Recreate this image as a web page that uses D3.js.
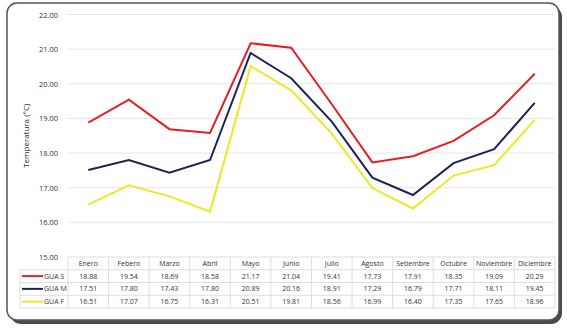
<!DOCTYPE html>
<html>
<head>
<meta charset="utf-8">
<script src="https://cdn.jsdelivr.net/npm/d3@7"></script>
<style>
body { margin: 0; background: #fff; }
text { font-family: "Open Sans", "Noto Sans", sans-serif; }
</style>
</head>
<body>
<div id="chart"></div>
<script>
var months = ["Enero", "Febero", "Marzo", "Abril", "Mayo", "Junio", "Julio", "Agosto", "Setiembre", "Octubre", "Noviembre", "Diciembre"];
var seriesNames = ["GUA S", "GUA M", "GUA F"];
var guaS = [18.88, 19.54, 18.69, 18.58, 21.17, 21.04, 19.41, 17.73, 17.91, 18.35, 19.09, 20.29];
var guaM = [17.51, 17.80, 17.43, 17.80, 20.89, 20.16, 18.91, 17.29, 16.79, 17.71, 18.11, 19.45];
var guaF = [16.51, 17.07, 16.75, 16.31, 20.51, 19.81, 18.56, 16.99, 16.40, 17.35, 17.65, 18.96];
var yTicks = [15, 16, 17, 18, 19, 20, 21, 22];
var colors = ["#e31f26", "#1c2457", "#ece825"];

var svgWidth = 567, svgHeight = 332;
var svg = d3.select("#chart").append("svg")
  .attr("width", svgWidth).attr("height", svgHeight);

// frame with shadow
svg.append("rect").attr("x", 10).attr("y", 6).attr("width", 552).attr("height", 318)
  .attr("rx", 11).attr("fill", "#2a2a2a").attr("opacity", 0.85);
svg.append("rect").attr("x", 7).attr("y", 3).attr("width", 552).attr("height", 317)
  .attr("rx", 10).attr("fill", "#fff").attr("stroke", "#555").attr("stroke-width", 1.5);

var series = [guaS, guaM, guaF];

var x = d3.scaleBand().domain(months).range([68, 555]);
var y = d3.scaleLinear().domain([15, 22]).range([257, 14.5]);

// gridlines
svg.append("g").selectAll("line").data(yTicks.slice(1)).enter().append("line")
  .attr("x1", 68).attr("x2", 555)
  .attr("y1", d => y(d)).attr("y2", d => y(d))
  .attr("stroke", "#e6e6e6").attr("stroke-width", 1);

// y axis labels
svg.append("g").selectAll("text").data(yTicks).enter().append("text")
  .attr("x", 58).attr("y", d => y(d) + 3)
  .attr("text-anchor", "end").attr("font-size", "7.5px").attr("fill", "#333")
  .text(d => d.toFixed(2));

svg.append("text")
  .attr("transform", "translate(29," + y(18.5) + ") rotate(-90)")
  .attr("text-anchor", "middle").attr("font-size", "8px").attr("fill", "#222")
  .text("Temperatura (°C)");

// lines
var line = d3.line()
  .x((d, i) => x(months[i]) + x.bandwidth() / 2)
  .y(d => y(d));

svg.append("g").selectAll("path").data(series).enter().append("path")
  .attr("d", d => line(d))
  .attr("fill", "none")
  .attr("stroke", (d, i) => colors[i])
  .attr("stroke-width", 2);

// data table
var rowY = d3.scaleBand().domain(["h"].concat(seriesNames)).range([257, 308]);
var table = svg.append("g");
var gridColor = "#dedede";

// horizontal lines
table.append("line").attr("x1", 68).attr("x2", 555)
  .attr("y1", rowY("h")).attr("y2", rowY("h")).attr("stroke", gridColor);
table.selectAll(".hl").data(seriesNames).enter().append("line")
  .attr("x1", 20).attr("x2", 555)
  .attr("y1", d => rowY(d)).attr("y2", d => rowY(d)).attr("stroke", gridColor);
table.append("line").attr("x1", 20).attr("x2", 555)
  .attr("y1", 308).attr("y2", 308).attr("stroke", gridColor);

// vertical lines
table.selectAll(".vl").data(months).enter().append("line")
  .attr("x1", d => x(d)).attr("x2", d => x(d))
  .attr("y1", 257).attr("y2", 308).attr("stroke", gridColor);
table.append("line").attr("x1", 555).attr("x2", 555)
  .attr("y1", 257).attr("y2", 308).attr("stroke", gridColor);
table.append("line").attr("x1", 20).attr("x2", 20)
  .attr("y1", rowY("GUA S")).attr("y2", 308).attr("stroke", gridColor);

// month headers
table.selectAll(".mh").data(months).enter().append("text")
  .attr("x", d => x(d) + x.bandwidth() / 2)
  .attr("y", rowY("h") + rowY.bandwidth() / 2 + 2.5)
  .attr("text-anchor", "middle").attr("font-size", "7px").attr("fill", "#333")
  .text(d => d);

// legend keys
seriesNames.forEach(function(name, i) {
  var cy = rowY(name) + rowY.bandwidth() / 2;
  table.append("line").attr("x1", 22).attr("x2", 43)
    .attr("y1", cy).attr("y2", cy)
    .attr("stroke", colors[i]).attr("stroke-width", 2);
  table.append("text").attr("x", 44).attr("y", cy + 2.5)
    .attr("font-size", "7px").attr("fill", "#333").text(name);
  table.selectAll(".v" + i).data(series[i]).enter().append("text")
    .attr("x", (d, j) => x(months[j]) + x.bandwidth() / 2)
    .attr("y", cy + 2.5)
    .attr("text-anchor", "middle").attr("font-size", "7px").attr("fill", "#333")
    .text(d => d.toFixed(2));
});
</script>
</body>
</html>
